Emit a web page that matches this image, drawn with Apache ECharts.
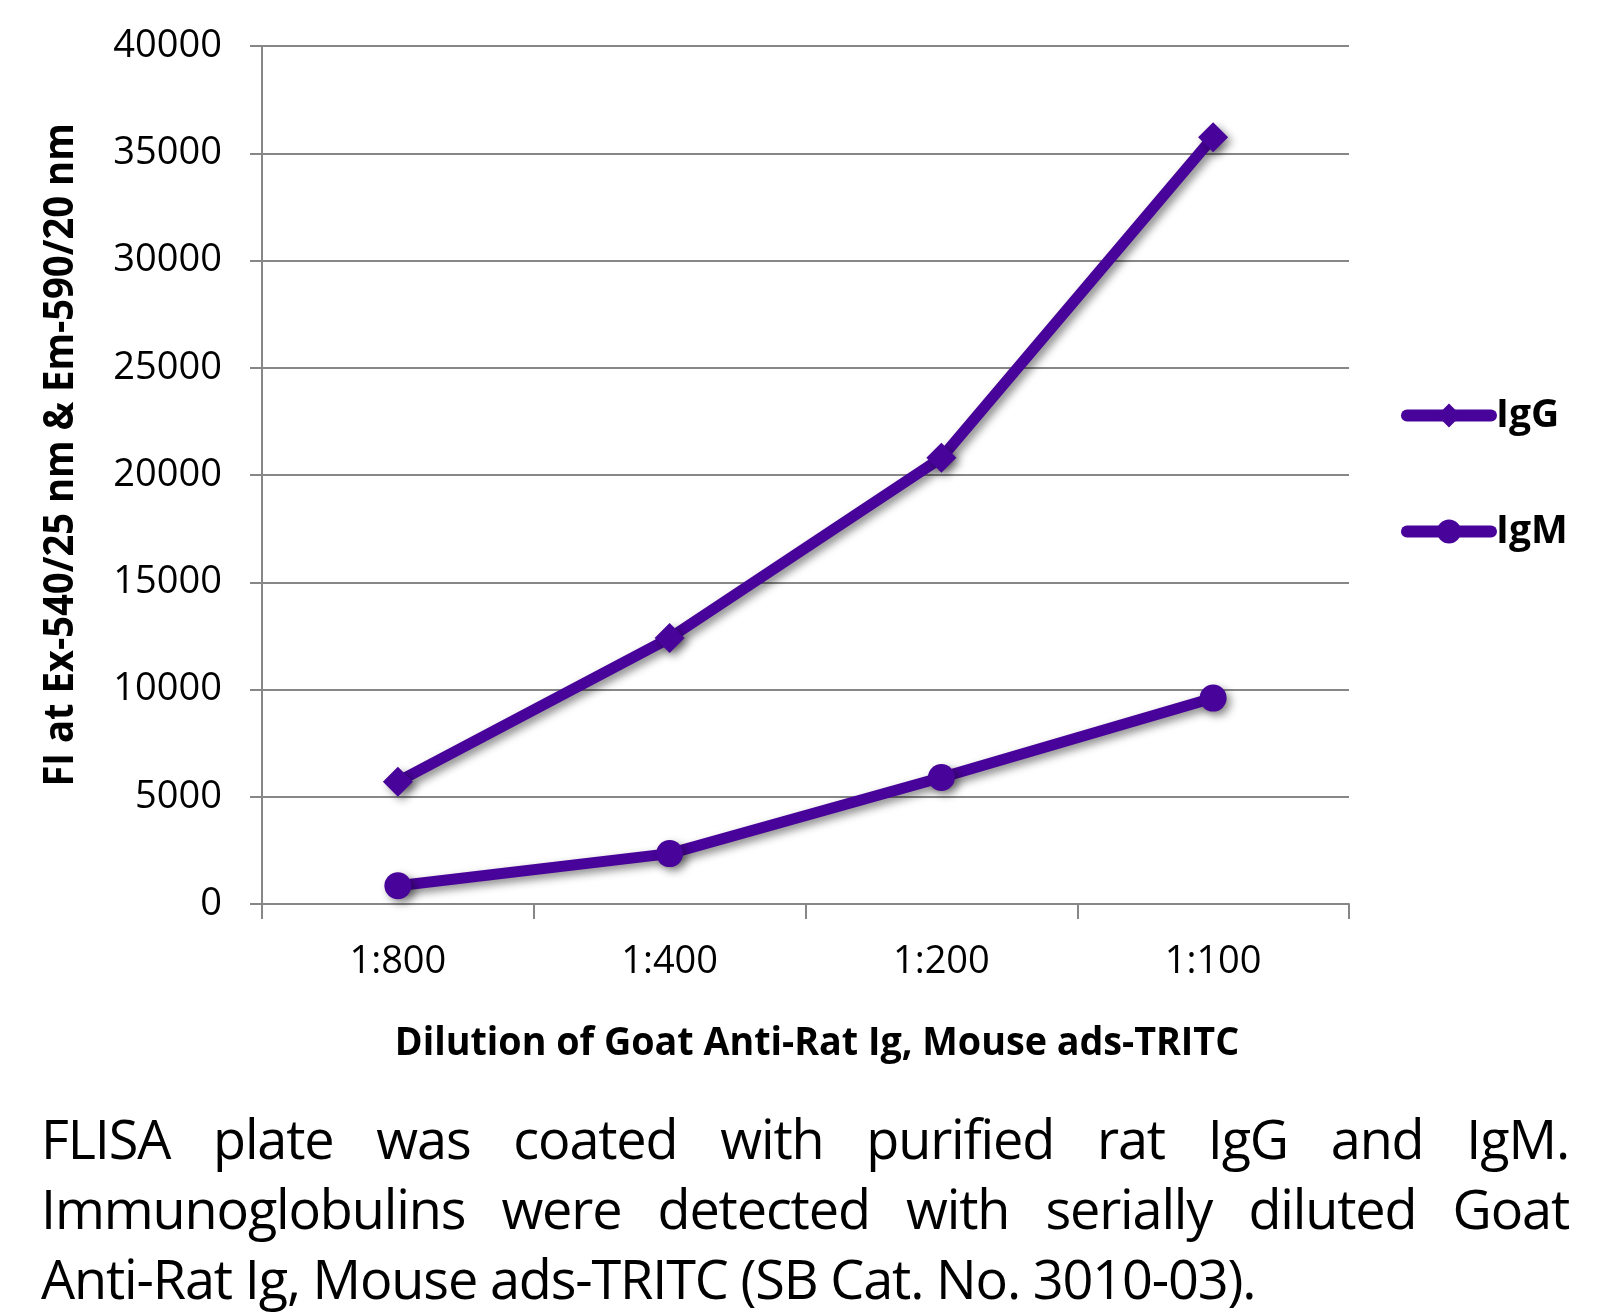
<!DOCTYPE html>
<html>
<head>
<meta charset="utf-8">
<script src="https://cdn.jsdelivr.net/npm/echarts@6/dist/echarts.min.js"></script>
<style>
  html, body { margin: 0; padding: 0; background: #ffffff; }
  #chart { position: absolute; left: 0; top: 0; width: 1620px; height: 1312px; }
  #caption { position: absolute; left: 41px; top: 1103px; width: 1528px;
    font-family: "Open Sans", sans-serif; font-size: 54px; line-height: 70px; letter-spacing: -1.15px; color: #000; }
  #caption .j { white-space: nowrap; display: flex; justify-content: space-between; }
  #caption .l { text-align: left; white-space: nowrap; }
</style>
</head>
<body>
<div id="chart"></div>
<div id="caption">
  <div class="j"><span>FLISA</span><span>plate</span><span>was</span><span>coated</span><span>with</span><span>purified</span><span>rat</span><span>IgG</span><span>and</span><span>IgM.</span></div>
  <div class="j"><span>Immunoglobulins</span><span>were</span><span>detected</span><span>with</span><span>serially</span><span>diluted</span><span>Goat</span></div>
  <div class="l">Anti-Rat Ig, Mouse ads-TRITC (SB Cat. No. 3010-03).</div>
</div>
<script>
const categories = ['1:800', '1:400', '1:200', '1:100'];
const igG = [5700, 12400, 20800, 35750];
const igM = [850, 2350, 5900, 9600];
const seriesNames = ['IgG', 'IgM'];
const yTitle = 'FI at Ex-540/25 nm & Em-590/20 nm';
const xTitle = 'Dilution of Goat Anti-Rat Ig, Mouse ads-TRITC';

const purple = '#48039a';
const gray = '#878787';
const FONT = '"Open Sans", sans-serif';

const chart = echarts.init(document.getElementById('chart'), null, { renderer: 'canvas' });

const shadow = { shadowColor: 'rgba(0,0,0,0.45)', shadowBlur: 8, shadowOffsetX: 4, shadowOffsetY: 4 };

chart.setOption({
  animation: false,
  backgroundColor: '#ffffff',
  grid: { left: 262, right: 271, top: 46, height: 858, containLabel: false },
  xAxis: {
    type: 'category',
    data: categories,
    boundaryGap: true,
    axisLine: { show: true, lineStyle: { color: gray, width: 2 } },
    axisTick: { show: true, length: 15, alignWithLabel: false, lineStyle: { color: gray, width: 2 } },
    axisLabel: { color: '#000', fontFamily: FONT, fontSize: 38, margin: 39 },
    splitLine: { show: false }
  },
  yAxis: {
    type: 'value',
    min: 0, max: 40000, interval: 5000,
    axisLine: { show: true, lineStyle: { color: gray, width: 2 } },
    axisTick: { show: true, length: 12, inside: false, lineStyle: { color: gray, width: 2 } },
    axisLabel: { color: '#000', fontFamily: FONT, fontSize: 38, margin: 40, formatter: (v) => String(v) },
    splitLine: { show: true, lineStyle: { color: gray, width: 2 } }
  },
  legend: {
    orient: 'vertical',
    left: 1396, top: 391,
    itemWidth: 84, itemHeight: 30, itemGap: 77,
    data: seriesNames,
    lineStyle: { width: 12, cap: 'round' },
    textStyle: { color: '#000', fontFamily: FONT, fontWeight: 'bold', fontSize: 39, lineHeight: 30 }
  },
  graphic: [
    { type: 'text', x: 61, y: 455, rotation: Math.PI / 2, scaleX: 0.909,
      style: { text: yTitle, font: 'bold 42px ' + FONT, fill: '#000', align: 'center', verticalAlign: 'middle' } },
    { type: 'text', x: 817, y: 1044, scaleX: 0.942,
      style: { text: xTitle, font: 'bold 40px ' + FONT, fill: '#000', align: 'center', verticalAlign: 'middle' } }
  ],
  series: [
    { name: seriesNames[0], type: 'line', data: igG, symbol: 'diamond', symbolSize: 30,
      lineStyle: Object.assign({ color: purple, width: 11 }, shadow),
      itemStyle: Object.assign({ color: purple }, shadow) },
    { name: seriesNames[1], type: 'line', data: igM, symbol: 'circle', symbolSize: 27,
      lineStyle: Object.assign({ color: purple, width: 11 }, shadow),
      itemStyle: Object.assign({ color: purple }, shadow) }
  ]
});
</script>
</body>
</html>
